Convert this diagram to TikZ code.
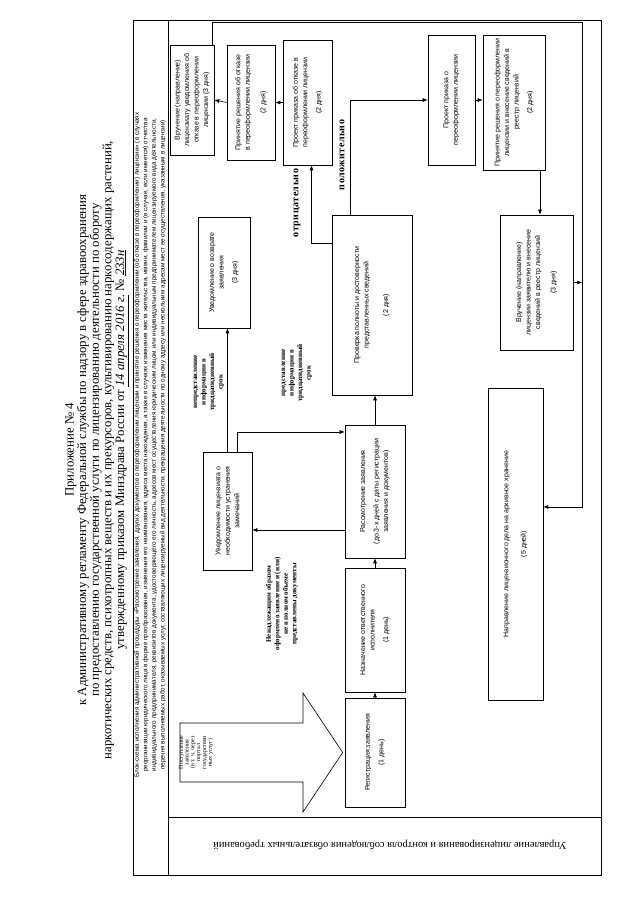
\documentclass[tikz,border=0pt]{standalone}
\usepackage{fontspec}
\setmainfont{Liberation Serif}
\setsansfont{Liberation Sans}
\setmonofont{Liberation Mono}
\usetikzlibrary{arrows.meta, positioning, calc}

\tikzset{
  box/.style={rectangle, draw, line width=0.6pt, align=center,
    font=\sffamily\fontsize{7}{9.5}\selectfont, inner sep=2pt},
  arrow/.style={-{Latex[length=5pt,width=4pt]}, line width=0.6pt},
  line/.style={line width=0.6pt},
  note/.style={align=center, font=\bfseries\fontsize{7}{8.5}\selectfont},
  answer/.style={font=\bfseries\fontsize{10}{10}\selectfont\addfontfeature{LetterSpace=5}}
}

\begin{document}
\begin{tikzpicture}[x=1pt, y=1pt, rotate=90, transform shape]
  \path[fill=white] (0,0) rectangle (905,640);
  \useasboundingbox (0,0) rectangle (905,640);

  % Header
  \node (head) [align=center, font=\fontsize{12.8}{12.6}\selectfont] at (455,543)
    {Приложение № 4\\
     к Административному регламенту Федеральной службы по надзору в сфере здравоохранения\\
     по предоставлению государственной услуги по лицензированию деятельности по обороту\\
     наркотических средств, психотропных веществ и их прекурсоров, культивированию наркосодержащих растений,\\
     утвержденному приказом Минздрава России от \underline{\itshape 14 апреля 2016 г.} № \underline{\itshape 233н}};

  % Table frame
  \draw[line] (30,39) rectangle (885,507);
  \draw[line] (30,472) -- (885,472);
  \draw[line] (88,39) -- (88,472);
  \node (title) [align=center, font=\sffamily\fontsize{6.3}{8.6}\selectfont] at (460,490)
    {Блок-схема исполнения административной процедуры «Рассмотрение заявления, других документов о переоформлении лицензии и принятие решения о переоформлении (об отказе в переоформлении) лицензии» (в случаях\\
     реорганизации юридического лица в форме преобразования, изменения его наименования, адреса места нахождения, а также в случаях изменения места жительства, имени, фамилии и (в случае, если имеется) отчества\\
     индивидуального предпринимателя, реквизитов документа, удостоверяющего его личность, адресов мест осуществления юридическим лицом или индивидуальным предпринимателем лицензируемого вида деятельности,\\
     перечня выполняемых работ, оказываемых услуг, составляющих лицензируемый вид деятельности, прекращения деятельности по одному адресу или нескольким адресам мест ее осуществления, указанным в лицензии)};
  \node (dept) [rotate=90, font=\fontsize{10.5}{10.5}\selectfont] at (60,250)
    {Управление лицензирования и контроля соблюдения обязательных требований};

  % Main chain
  \node[box, minimum width=109pt, minimum height=60pt] (reg) at (152.5,265)
    {Регистрация заявления\\[4pt](1 день)};
  \node[box, minimum width=124pt, minimum height=60pt] (assign) at (275,265)
    {Назначение ответственного\\исполнителя\\[4pt](1 день)};
  \node[box, minimum width=133pt, minimum height=60pt] (review) at (413.5,265)
    {Рассмотрение заявления\\[4pt](до 3-х дней с даты регистрации\\заявления и документов)};
  \node[box, minimum width=180pt, minimum height=80pt] (check) at (600,268)
    {Проверка полноты и достоверности\\представленных сведений\\[10pt](2 дня)};

  % Remarks branch
  \node[box, minimum width=118pt, minimum height=49pt] (notice) at (394,412.5)
    {Уведомление лицензиата о\\необходимости устранения\\замечаний};
  \node[box, minimum width=111pt, minimum height=52pt] (return) at (632.5,416)
    {Уведомление о возврате\\заявления\\[4pt](3 дня)};

  % Refusal column
  \node[box, minimum width=125pt, minimum height=49pt] (rejdraft) at (802.5,332.5)
    {Проект приказа об отказе в\\переоформлении лицензии\\[4pt](2 дня)};
  \node[box, minimum width=115pt, minimum height=48pt] (rejdecision) at (802.5,389)
    {Принятие решения об отказе\\в переоформлении лицензии\\[6pt](2 дня)};
  \node[box, minimum width=110pt, minimum height=44pt] (rejnotice) at (805,448)
    {Вручение (направление)\\лицензиату уведомления об\\отказе в переоформлении\\лицензии (3 дня)};

  % Reissue column
  \node[box, minimum width=130pt, minimum height=47pt] (grantdraft) at (805,188.5)
    {Проект приказа о\\переоформлении лицензии};
  \node[box, minimum width=135pt, minimum height=62pt] (grant) at (802.5,126)
    {Принятие решения о переоформлении\\лицензии и внесение сведений в\\реестр лицензий\\[4pt](2 дня)};
  \node[box, minimum width=135pt, minimum height=73pt] (issue) at (622.5,103.5)
    {Вручение (направление)\\лицензии заявителю и внесение\\сведений в реестр лицензий\\[6pt](3 дня)};
  \node[box, minimum width=312pt, minimum height=55pt] (archive) at (361,124.5)
    {Направление лицензионного дела на архивное хранение\\[8pt](5 дней)};

  % Incoming block arrow
  \draw[line] (123,460) -- (123,337) -- (93,337) -- ($(reg.north)+(0,2)$)
    -- (212,337) -- (182,337) -- (182,460) -- cycle;
  \node (income) [align=center, font=\fontsize{6}{5.8}\selectfont] at (152.5,444)
    {Поступление\\заявления\\(в т. ч. через\\портал\\государствен\\ных услуг)};

  % Labels
  \node[note] (badform) at (301,358)
    {Ненадлежащим образом\\оформлено заявление и (или)\\не в полном объеме\\представлены документы};
  \node[note] (late) at (523,431)
    {непредставление\\информации в\\тридцатидневный\\срок};
  \node[note] (intime) at (532,343)
    {представление\\информации в\\тридцатидневный\\срок};
  \node[answer] (neg) at (702,343) {отрицательно};
  \node[answer] (pos) at (750,298) {положительно};

  % Arrows
  \draw[arrow] (reg) -- (assign);
  \draw[arrow] (assign) -- (review);
  \draw[arrow] (review.east) -- (review.east -| check.west);
  \draw[arrow] ([xshift=-38.5pt]review.north) -- ([xshift=-38.5pt]review.north |- notice.south);
  \draw[arrow] ([yshift=-9.5pt]notice.east) -| ([xshift=59.5pt]review.north);
  \draw[arrow] (notice.east) -- (notice.east -| return.west);
  \draw[arrow] ([xshift=62pt]check.north) |- ([yshift=-4pt]rejdraft.west);
  \draw[arrow] ([yshift=22pt]check.east) -| (grantdraft.north);
  \draw[arrow] (rejdraft.north) -- (rejdecision.south);
  \draw[arrow] (rejdecision.north) -- (rejnotice.south);
  \draw[arrow] (grantdraft.south) -- (grantdraft.south |- grant.north);
  \draw[arrow] ([yshift=-26pt]grant.west) -- ([yshift=-26pt]grant.west -| issue.east);
  \coordinate (rail) at ($(archive.south)+(37,-39)$);
  \draw[arrow] ([yshift=2pt]rejnotice.south east) -- ++(22,0) |- (rail) -- (rail |- archive.south);
  \draw[arrow] (issue.south) -- (issue.south |- rail);
\end{tikzpicture}
\end{document}
